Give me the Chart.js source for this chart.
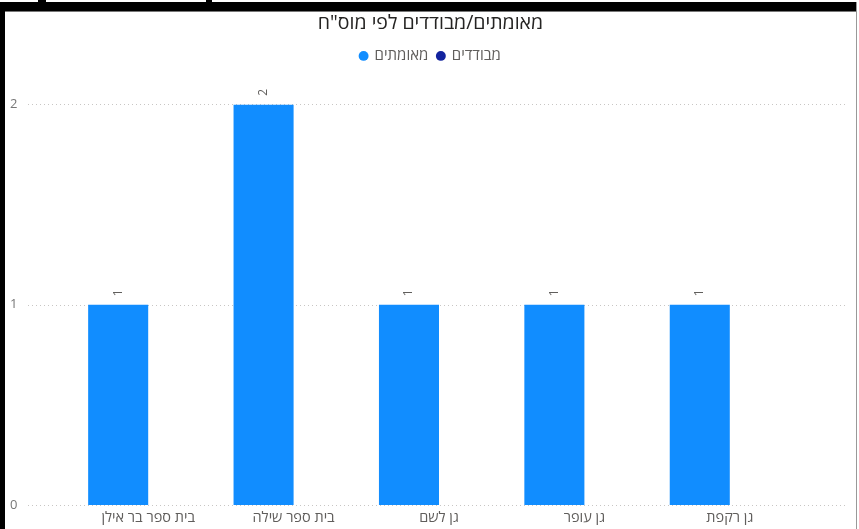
<!DOCTYPE html>
<html>
<head>
<meta charset="utf-8">
<script src="https://cdn.jsdelivr.net/npm/chart.js@4"></script>
<style>
    body { margin: 0; background: #fff; width: 859px; height: 529px; overflow: hidden; position: relative; }
    #topbar { position: absolute; left: 0; top: 2px; width: 857px; height: 9px; background: #000; border-bottom: 1px solid #777; }
    .notch { position: absolute; top: 0; height: 3px; background: #000; }
    #leftbar { position: absolute; left: 0; top: 2px; width: 5px; height: 527px; background: #000; }
    #rightline { position: absolute; left: 856px; top: 2px; width: 1px; height: 527px; background: #999; }
    #wrap { position: absolute; left: 5px; top: 12px; width: 851px; height: 517px; }
</style>
</head>
<body>
<div class="notch" style="left:38px;width:8px"></div>
<div class="notch" style="left:206px;width:6px"></div>
<div id="topbar"></div>
<div id="leftbar"></div>
<div id="rightline"></div>
<div id="wrap"><canvas id="chart" width="851" height="517"></canvas></div>
<script>
    const categories = ['בית ספר בר אילן', 'בית ספר שילה', 'גן לשם', 'גן עופר', 'גן רקפת'];
    const confirmed = [1, 2, 1, 1, 1];
    const isolated = [null, null, null, null, null];
    const yTicks = [0, 1, 2];

    const fontFamily = '"Open Sans", "DejaVu Sans", sans-serif';
    const textGray = '#605E5C';

    // power bi style dotted gridlines, a bit wider than the bar area
    const dottedGrid = {
        id: 'dottedGrid',
        beforeDatasetsDraw(chart) {
            const {ctx, chartArea, scales: {y}} = chart;
            ctx.save();
            ctx.strokeStyle = '#c8c6c4';
            ctx.lineWidth = 1;
            ctx.setLineDash([1, 3]);
            yTicks.forEach(v => {
                const py = Math.round(y.getPixelForValue(v)) + 0.5;
                ctx.beginPath();
                ctx.moveTo(chartArea.left - 47.5, py);
                ctx.lineTo(chartArea.right + 42.5, py);
                ctx.stroke();
            });
            ctx.restore();
        }
    };

    const barLabels = {
        id: 'barLabels',
        afterDatasetsDraw(chart) {
            const {ctx} = chart;
            const meta = chart.getDatasetMeta(0);
            ctx.save();
            ctx.fillStyle = textGray;
            ctx.font = '12px ' + fontFamily;
            ctx.textAlign = 'center';
            ctx.textBaseline = 'middle';
            meta.data.forEach((bar, i) => {
                if (confirmed[i] == null) return;
                ctx.save();
                ctx.translate(bar.x, bar.y - 12);
                ctx.rotate(-Math.PI / 2);
                ctx.fillText(String(confirmed[i]), 0, 0);
                ctx.restore();
            });
            ctx.restore();
        }
    };

    const legendSpace = {
        id: 'legendSpace',
        beforeInit(chart) {
            const fit = chart.legend.fit;
            chart.legend.fit = function () {
                fit.bind(chart.legend)();
                this.height += 31;
            };
        }
    };

    new Chart(document.getElementById('chart').getContext('2d'), {
        type: 'bar',
        data: {
            labels: categories,
            datasets: [
                {label: 'מאומתים', data: confirmed, backgroundColor: '#118DFF'},
                {label: 'מבודדים', data: isolated, backgroundColor: '#12239E'}
            ]
        },
        options: {
            responsive: false,
            animation: false,
            barPercentage: 1,
            categoryPercentage: 0.826,
            layout: {padding: {left: 5, right: 5, top: 0, bottom: 0}},
            plugins: {
                title: {
                    display: true,
                    text: 'מאומתים/מבודדים לפי מוס"ח',
                    color: '#252423',
                    font: {family: fontFamily, size: 19.5, weight: 'normal'},
                    padding: {top: 0, bottom: 4}
                },
                legend: {
                    labels: {
                        usePointStyle: true,
                        pointStyle: 'circle',
                        boxWidth: 7,
                        boxHeight: 7,
                        padding: 9,
                        color: textGray,
                        font: {family: fontFamily, size: 15}
                    }
                },
                tooltip: {enabled: false}
            },
            scales: {
                x: {
                    grid: {display: false, drawTicks: false},
                    border: {display: false},
                    afterFit: s => { s.height = 24; },
                    ticks: {color: textGray, font: {family: fontFamily, size: 14.5}, padding: 4, maxRotation: 0}
                },
                y: {
                    min: 0,
                    max: 2,
                    grid: {display: false, drawTicks: false},
                    border: {display: false},
                    afterFit: s => { s.width = 65.5; },
                    ticks: {stepSize: 1, crossAlign: 'far', padding: 0, color: '#777', font: {family: fontFamily, size: 13}}
                },
                // empty right axis, only keeps the bar area off the right edge
                yRight: {
                    position: 'right',
                    grid: {display: false, drawTicks: false},
                    border: {display: false},
                    ticks: {display: false},
                    afterFit: s => { s.width = 48.5; }
                }
            }
        },
        plugins: [dottedGrid, barLabels, legendSpace]
    });
</script>
</body>
</html>
